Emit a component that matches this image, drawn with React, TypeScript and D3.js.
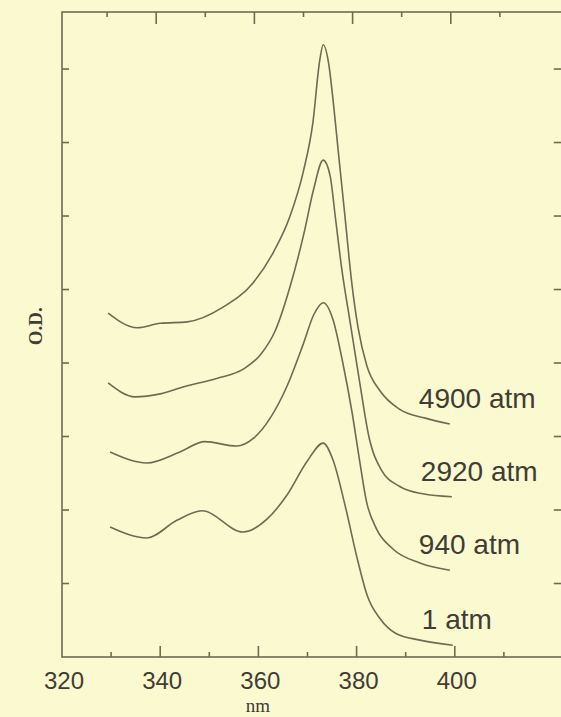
import { useEffect, useRef } from 'react';
import * as d3 from 'd3';

// absorption spectra: [wavelength nm, O.D.]
const series4900: [number, number][] = [
  [329.4, 0.468], [335.3, 0.448], [340.0, 0.454], [345.5, 0.456], [352.8, 0.476],
  [358.9, 0.509], [363.0, 0.550], [366.4, 0.599], [369.1, 0.659], [371.1, 0.727],
  [372.5, 0.812], [373.2, 0.833], [374.3, 0.808], [375.3, 0.752], [376.3, 0.686],
  [377.7, 0.595], [379.0, 0.510], [380.3, 0.448], [382.1, 0.396], [384.8, 0.362],
  [388.8, 0.337], [394.0, 0.325], [399.0, 0.317],
];
const series2920: [number, number][] = [
  [329.4, 0.373], [334.9, 0.354], [340.0, 0.358], [345.0, 0.368], [351.5, 0.379],
  [357.0, 0.392], [360.5, 0.412], [363.5, 0.445], [366.5, 0.505], [369.3, 0.577],
  [371.2, 0.635], [373.2, 0.676], [374.6, 0.655], [375.7, 0.597], [377.0, 0.527],
  [378.7, 0.455], [380.6, 0.375], [382.5, 0.300], [385.0, 0.255], [388.8, 0.232],
  [393.5, 0.222], [399.4, 0.218],
];
const series940: [number, number][] = [
  [329.8, 0.279], [337.3, 0.264], [344.0, 0.279], [349.1, 0.293], [355.6, 0.287],
  [358.9, 0.297], [362.4, 0.325], [365.8, 0.368], [369.1, 0.425], [371.3, 0.466],
  [373.2, 0.482], [375.2, 0.459], [377.2, 0.400], [379.1, 0.332], [380.6, 0.268],
  [382.0, 0.212], [384.0, 0.175], [387.4, 0.147], [392.9, 0.128], [399.0, 0.118],
];
const series1: [number, number][] = [
  [329.8, 0.177], [337.3, 0.162], [343.4, 0.186], [348.5, 0.199], [356.9, 0.170],
  [361.8, 0.188], [365.8, 0.220], [369.9, 0.266], [373.2, 0.291], [375.2, 0.268],
  [377.7, 0.205], [380.2, 0.132], [382.2, 0.083], [384.8, 0.052], [388.0, 0.032],
  [392.9, 0.023], [399.6, 0.016],
];

const seriesList = [series4900, series2920, series940, series1];
const seriesLabels = ['4900 atm', '2920 atm', '940 atm', '1 atm'];

const xTicks = [320, 330, 340, 350, 360, 370, 380, 390, 400, 410];
const xTickLabels = [320, 340, 360, 380, 400];
const yTicks = [0.1, 0.2, 0.3, 0.4, 0.5, 0.6, 0.7, 0.8];

const W = 561;
const H = 717;
const ink = '#6f6a52';
const textInk = '#3f3d35';

export default function App() {
  const ref = useRef<SVGSVGElement>(null);

  useEffect(() => {
    const svg = d3.select(ref.current);
    if (!svg.node()) return;
    svg.selectAll('*').remove();

    const x = d3.scaleLinear().domain([320, 422]).range([62, 562.8]);
    const y = d3.scaleLinear().domain([0, 0.8776]).range([657, 12]);

    svg.append('rect').attr('width', W).attr('height', H).attr('fill', '#fbf9cf');

    const frame = svg.append('g').attr('stroke', ink).attr('stroke-width', 1.6).attr('fill', 'none');
    frame.append('rect')
      .attr('x', x(320)).attr('y', y(0.8776))
      .attr('width', x(422) - x(320)).attr('height', y(0) - y(0.8776));

    // bottom and top ticks (inward)
    xTicks.forEach(t => {
      const major = t % 20 === 0;
      if (t === 320) return;
      frame.append('line')
        .attr('x1', x(t)).attr('x2', x(t))
        .attr('y1', y(0)).attr('y2', y(0) - (major ? 11 : 5));
      frame.append('line')
        .attr('x1', x(t) - 4).attr('x2', x(t) - 4)
        .attr('y1', y(0.8776)).attr('y2', y(0.8776) + (major ? 12 : 5));
    });

    // left and right ticks (inward)
    yTicks.forEach(t => {
      frame.append('line')
        .attr('x1', x(320)).attr('x2', x(320) + 7)
        .attr('y1', y(t)).attr('y2', y(t));
      frame.append('line')
        .attr('x1', x(422)).attr('x2', x(422) - 9)
        .attr('y1', y(t)).attr('y2', y(t));
    });

    svg.append('g').selectAll('text')
      .data(xTickLabels).enter().append('text')
      .attr('x', d => x(d) + 2)
      .attr('y', 689)
      .attr('text-anchor', 'middle')
      .style('font-family', "'Liberation Sans', 'DejaVu Sans', sans-serif")
      .style('font-size', '24px')
      .style('fill', textInk)
      .text(d => d);

    svg.append('text')
      .attr('x', 258).attr('y', 712)
      .attr('text-anchor', 'middle')
      .style('font-family', "'Liberation Serif', serif")
      .style('font-size', '19px')
      .style('fill', textInk)
      .text('nm');

    svg.append('text')
      .attr('transform', `translate(42, ${y(0.45)}) rotate(-90)`)
      .attr('text-anchor', 'middle')
      .style('font-family', "'Liberation Serif', serif")
      .style('font-size', '19px')
      .style('font-weight', 'bold')
      .style('fill', textInk)
      .text('O.D.');

    const line = d3.line<[number, number]>()
      .x(d => x(d[0]))
      .y(d => y(d[1]))
      .curve(d3.curveMonotoneX);

    const curves = svg.append('g');
    seriesList.forEach((s, i) => {
      curves.append('path')
        .attr('d', line(s) || '')
        .attr('fill', 'none')
        .attr('stroke', ink)
        .attr('stroke-width', 1.6);

      const last = s[s.length - 1];
      curves.append('text')
        .attr('x', x(last[0]) - 31)
        .attr('y', y(last[1]) - 16)
        .style('font-family', "'Liberation Sans', 'DejaVu Sans', sans-serif")
        .style('font-size', '28px')
        .style('fill', textInk)
        .text(seriesLabels[i]);
    });
  }, []);

  return (
    <svg
      ref={ref}
      width={W}
      height={H}
      style={{ position: 'absolute', left: 0, top: 0, display: 'block' }}
    />
  );
}
